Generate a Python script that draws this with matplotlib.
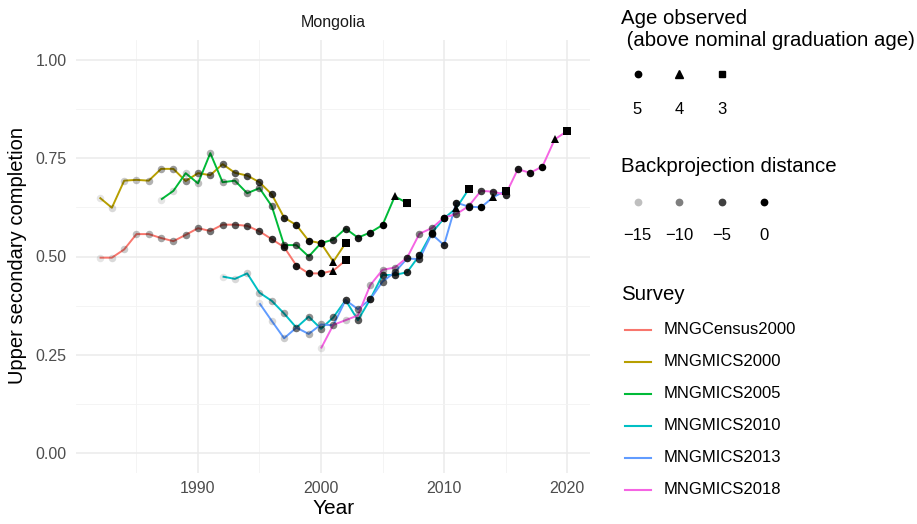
import numpy as np
import matplotlib
matplotlib.use("Agg")
import matplotlib.pyplot as plt
from matplotlib.lines import Line2D

plt.rcParams['font.family'] = ['Liberation Sans', 'DejaVu Sans']

# ---- data -------------------------------------------------------------
surveys = ["MNGCensus2000", "MNGMICS2000", "MNGMICS2005",
           "MNGMICS2010", "MNGMICS2013", "MNGMICS2018"]
survey_colors = ["#F8766D", "#B79F00", "#00BA38", "#00BFC4", "#619CFF", "#F564E3"]
first_year = [1982, 1982, 1987, 1992, 1995, 2000]

census_2000 = [0.497, 0.497, 0.518, 0.557, 0.557, 0.547, 0.539, 0.555, 0.572, 0.565, 0.581,
               0.581, 0.578, 0.564, 0.544, 0.524, 0.477, 0.457, 0.457, 0.464, 0.490]
mics_2000 = [0.650, 0.624, 0.693, 0.695, 0.693, 0.723, 0.723, 0.692, 0.712, 0.707, 0.735,
             0.713, 0.706, 0.689, 0.658, 0.599, 0.580, 0.540, 0.534, 0.487, 0.534]
mics_2005 = [0.645, 0.667, 0.712, 0.686, 0.763, 0.689, 0.693, 0.661, 0.674, 0.628, 0.529,
             0.529, 0.500, 0.534, 0.543, 0.571, 0.548, 0.561, 0.580, 0.653, 0.636]
mics_2010 = [0.449, 0.443, 0.457, 0.408, 0.387, 0.355, 0.319, 0.347, 0.316, 0.345, 0.389,
             0.338, 0.391, 0.453, 0.453, 0.460, 0.503, 0.560, 0.597, 0.623, 0.671]
mics_2013 = [0.381, 0.336, 0.292, 0.319, 0.303, 0.327, 0.325, 0.389, 0.366, 0.391, 0.436,
             0.460, 0.495, 0.493, 0.557, 0.529, 0.637, 0.627, 0.625, 0.651, 0.667]
mics_2018 = [0.266, 0.326, 0.338, 0.350, 0.427, 0.466, 0.472, 0.497, 0.558, 0.572, 0.599,
             0.608, 0.628, 0.667, 0.665, 0.657, 0.722, 0.713, 0.729, 0.798, 0.819]
series = [census_2000, mics_2000, mics_2005, mics_2010, mics_2013, mics_2018]

# age observed above graduation age: 5 for the bulk, then 4 and 3 at the end
tail_ages = [4, 3]
age_markers = {5: "o", 4: "^", 3: "s"}
age_sizes = {5: 5.4, 4: 6.2, 3: 5.6}

dist_min, dist_max = -18, 0
x_ticks = [1990, 2000, 2010, 2020]
y_ticks = [0.00, 0.25, 0.50, 0.75, 1.00]
y_ticklabels = ["0.00", "0.25", "0.50", "0.75", "1.00"]


def alpha_for(d):
    return 0.1 + 0.9 * (d - dist_min) / (dist_max - dist_min)


# ---- figure -----------------------------------------------------------
W, H = 917, 524
fig = plt.figure(figsize=(W / 100, H / 100), dpi=100)
left, right, top, bottom = 76.2, 590.4, 40.35, 472.65
ax = fig.add_axes([left / W, 1 - bottom / H, (right - left) / W, (bottom - top) / H])

for name, color, y0, vals in zip(surveys, survey_colors, first_year, series):
    years = np.arange(y0, y0 + len(vals))
    ax.plot(years, vals, color=color, lw=1.4, zorder=2, solid_capstyle="butt")

for name, color, y0, vals in zip(surveys, survey_colors, first_year, series):
    years = np.arange(y0, y0 + len(vals))
    ages = [5] * (len(vals) - len(tail_ages)) + tail_ages
    ref_year = years[len(vals) - len(tail_ages) - 1]
    for yr, v, a in zip(years, vals, ages):
        d = min(0, yr - ref_year)
        ax.plot(yr, v, marker=age_markers[a], ms=age_sizes[a], color="black",
                alpha=alpha_for(d), mew=0, ls="none", zorder=3)

ax.set_xlim(1980.1, 2021.9)
ax.set_ylim(-0.05, 1.05)
ax.set_xticks(x_ticks)
ax.set_xticks([1985, 1995, 2005, 2015], minor=True)
ax.set_yticks(y_ticks)
ax.set_yticklabels(y_ticklabels)
ax.set_yticks([0.125, 0.375, 0.625, 0.875], minor=True)
ax.grid(which="major", color="#EBEBEB", lw=1.1)
ax.grid(which="minor", color="#F3F3F3", lw=0.6)
ax.set_axisbelow(True)
for s in ax.spines.values():
    s.set_visible(False)
ax.tick_params(which="both", length=0)
ax.tick_params(axis="y", pad=7, labelsize=11.5, labelcolor="#4D4D4D")
ax.tick_params(axis="x", pad=6, labelsize=11.5, labelcolor="#4D4D4D")

fig.text((left + right) / 2 / W, 1 - 23 / H, "Mongolia", ha="center", va="center",
         fontsize=11.5, color="#1A1A1A")
fig.text(18 / W, 1 - 256 / H, "Upper secondary completion",
         rotation=90, ha="center", va="center", fontsize=14.5)
fig.text((left + right) / 2 / W, 1 - 509 / H, "Year", ha="center", va="center", fontsize=15)

# ---- legends ----------------------------------------------------------
lax = fig.add_axes([0, 0, 1, 1])
lax.set_xlim(0, W)
lax.set_ylim(H, 0)
lax.axis("off")

tx = 621
title_fs = 14.7
label_fs = 12
lax.text(tx, 19, "Age observed", ha="left", va="center", fontsize=title_fs)
lax.text(tx, 40, " (above nominal graduation age)", ha="left", va="center", fontsize=title_fs)
age_keys = [5, 4, 3]
age_x = [637.5, 679, 721.5]
for a, kx in zip(age_keys, age_x):
    lax.plot(kx, 74, marker=age_markers[a], ms=age_sizes[a] * 0.85, color="black", ls="none")
    lax.text(kx, 109, str(a), ha="center", va="center", fontsize=label_fs)

lax.text(tx, 166, "Backprojection distance", ha="left", va="center", fontsize=title_fs)
dist_keys = [-15, -10, -5, 0]
dist_x = [637.5, 679, 721.5, 764]
for d, kx in zip(dist_keys, dist_x):
    lax.plot(kx, 202, marker="o", ms=5.6, color="black", alpha=alpha_for(d), mew=0, ls="none")
    lax.text(kx, 236, str(d).replace("-", "\u2212"), ha="center", va="center", fontsize=label_fs)

lax.text(tx, 295, "Survey", ha="left", va="center", fontsize=title_fs)
key_y = [329.5, 361.5, 394, 426, 458, 490]
for name, color, ky in zip(surveys, survey_colors, key_y):
    lax.add_line(Line2D([625, 651], [ky, ky], color=color, lw=1.5))
    lax.text(664, ky, name, ha="left", va="center", fontsize=label_fs)

fig.savefig("out.png", dpi=100, facecolor="white")
